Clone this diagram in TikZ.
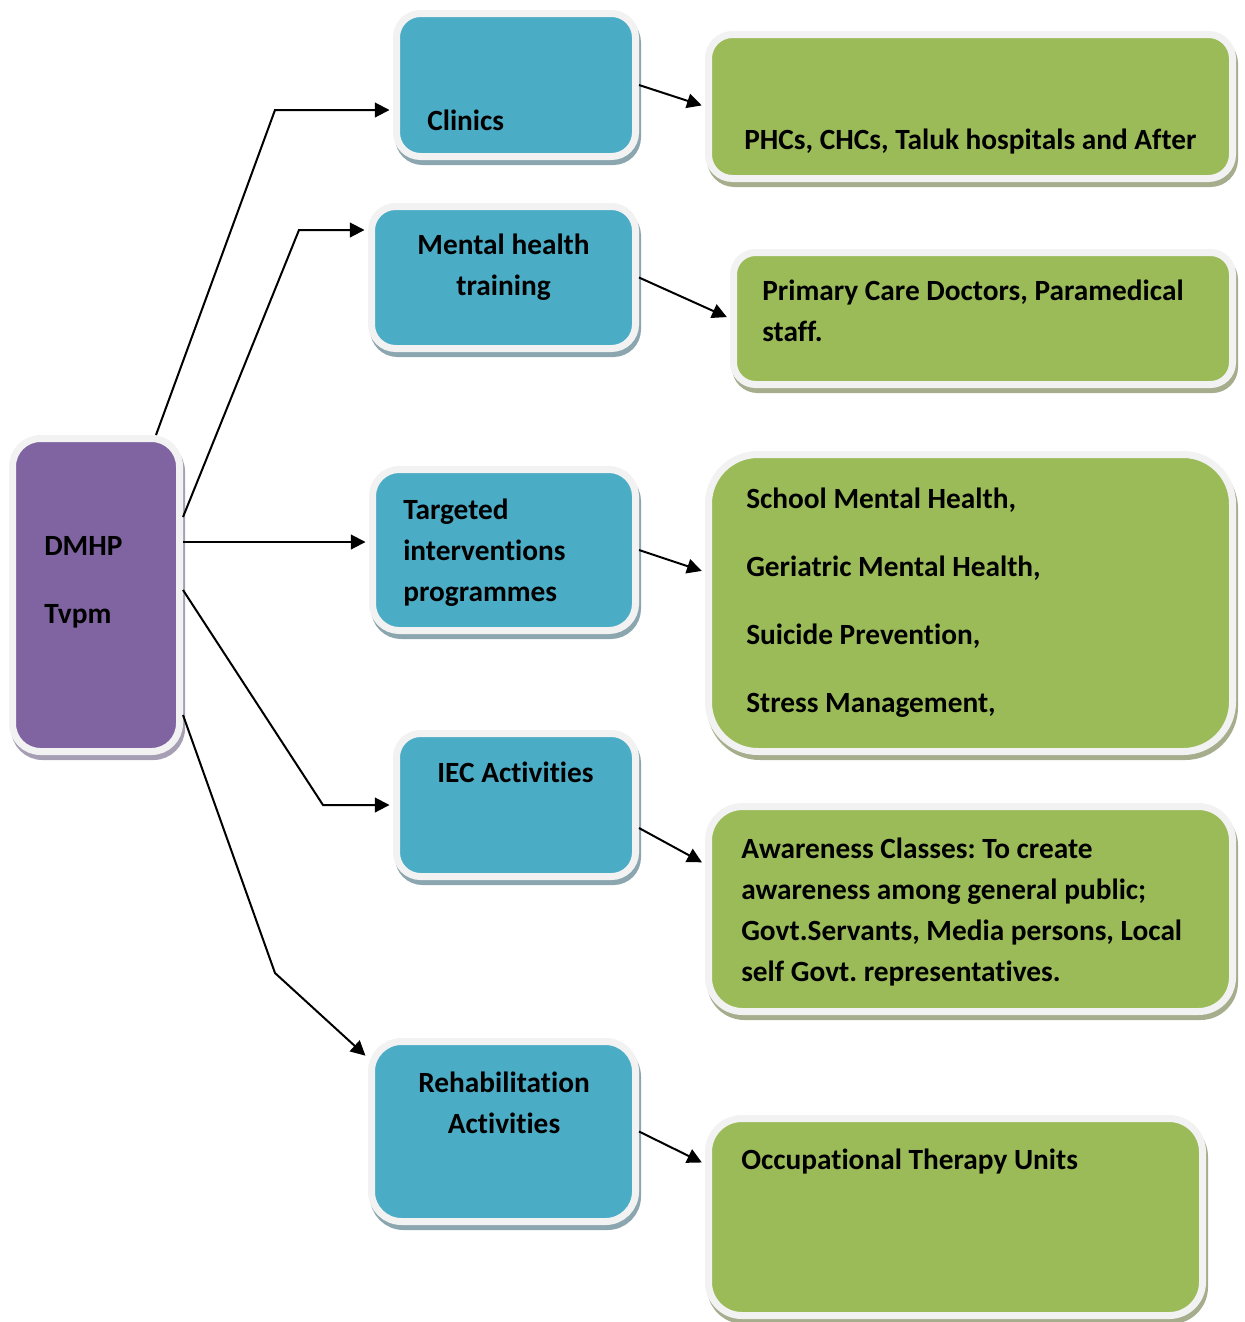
\documentclass[tikz,border=0pt]{standalone}
\usepackage{fontspec}
\setmainfont{Carlito}[Ligatures=NoCommon]
\usetikzlibrary{arrows.meta}
\frenchspacing

\definecolor{boxPurple}{HTML}{8064A2}
\definecolor{boxBlue}{HTML}{4BACC6}
\definecolor{boxGreen}{HTML}{9BBB59}
\definecolor{frameGrey}{HTML}{F2F2F2}
\definecolor{purpleShade}{HTML}{A69EB3}
\definecolor{blueShade}{HTML}{8CA6AF}
\definecolor{greenShade}{HTML}{A5AD8D}

\tikzset{
    panel/.style 2 args={
        fill=#1, draw=frameGrey, line width=5.25pt, inner sep=0pt,
        preaction={fill=#2, draw=#2, line width=5.25pt,
            transform canvas={shift={(1.5pt,-3.75pt)}}}
    },
    txt/.style={font=\bfseries\fontsize{22}{30.75}\selectfont, inner sep=0pt},
    wide/.style={font=\bfseries\fontsize{22}{51}\selectfont, inner sep=0pt},
    link/.style={-{Triangle[length=11pt,width=11pt]}, line width=1.5pt, shorten >=2.6pt}
}

\begin{document}
\begin{tikzpicture}[x=0.75pt, y=-0.75pt]
        \useasboundingbox (0,0) rectangle (1245,1322);

        % left
        \node[panel={boxPurple}{purpleShade}, rounded corners=21pt,
            minimum width=125.25pt, minimum height=234.75pt] (dmhp) at (96,595) {};

        % middle column
        \node[panel={boxBlue}{blueShade}, rounded corners=18pt,
            minimum width=179.25pt, minimum height=107.25pt] (clinics) at (516,85) {};
        \node[panel={boxBlue}{blueShade}, rounded corners=18pt,
            minimum width=198pt, minimum height=106.5pt] (training) at (503.5,277.5) {};
        \node[panel={boxBlue}{blueShade}, rounded corners=20pt,
            minimum width=197.25pt, minimum height=120.75pt] (targeted) at (504,550) {};
        \node[panel={boxBlue}{blueShade}, rounded corners=18pt,
            minimum width=179.25pt, minimum height=107.25pt] (iec) at (516,805) {};
        \node[panel={boxBlue}{blueShade}, rounded corners=22.5pt,
            minimum width=198pt, minimum height=135pt] (rehab) at (503.5,1131.5) {};

        % right column
        \node[panel={boxGreen}{greenShade}, rounded corners=18pt,
            minimum width=393pt, minimum height=108pt] (places) at (970.5,106.5) {};
        \node[panel={boxGreen}{greenShade}, rounded corners=16.5pt,
            minimum width=374.25pt, minimum height=99pt] (doctors) at (983,318.5) {};
        \node[panel={boxGreen}{greenShade}, rounded corners=37pt,
            minimum width=393pt, minimum height=222.75pt] (programmes) at (970.5,603) {};
        \node[panel={boxGreen}{greenShade}, rounded corners=25.5pt,
            minimum width=393pt, minimum height=153.75pt] (awareness) at (970.5,909) {};
        \node[panel={boxGreen}{greenShade}, rounded corners=25pt,
            minimum width=370.5pt, minimum height=147.75pt] (therapy) at (955.5,1217) {};

        % texts (base = last line)
        \node[wide, anchor=base west, align=left] (dmhpText) at (44,623) {DMHP\\Tvpm};
        \node[txt, anchor=base west] (clinicsText) at (427,130) {Clinics};
        \node[txt, anchor=base, align=center] (trainingText) at (503.5,295) {Mental health\\training};
        \node[txt, anchor=base west, align=left] (targetedText) at (403,601) {Targeted\\interventions\\programmes};
        \node[txt, anchor=base] (iecText) at (515.5,782) {IEC Activities};
        \node[txt, anchor=base, align=center] (rehabText) at (504,1133) {Rehabilitation\\Activities};
        \node[txt, anchor=base west] (placesText) at (744,149) {PHCs, CHCs, Taluk hospitals and After};
        \node[txt, anchor=base west, align=left] (doctorsText) at (762,341) {Primary Care Doctors, Paramedical\\staff.};
        \node[wide, anchor=base west, align=left] (programmesText) at (746,712)
            {School Mental Health,\\Geriatric Mental Health,\\Suicide Prevention,\\Stress Management,};
        \node[txt, anchor=base west, align=left] (awarenessText) at (741,981)
            {Awareness Classes: To create\\awareness among general public;\\Govt.Servants, Media persons, Local\\self Govt. representatives.};
        \node[txt, anchor=base west] (therapyText) at (741,1169) {Occupational Therapy Units};

        % bends
        \coordinate (bendClinics) at (275,110);
        \coordinate (bendTraining) at (299,230);
        \coordinate (bendIec) at (323,805);
        \coordinate (bendRehab) at (275,973);

        \draw[link] (156,0 |- dmhp.north) -- (bendClinics) -- (bendClinics -| clinics.west);
        \draw[link] (dmhp.east |- 0,517) -- (bendTraining) -- (bendTraining -| training.west);
        \draw[link] (dmhp.east |- 0,542) -- (targeted.west |- 0,542);
        \draw[link] (dmhp.east |- 0,590) -- (bendIec) -- (iec.west);
        \draw[link] (dmhp.east |- 0,715) -- (bendRehab) -- (rehab.west |- 0,1058);

        \draw[link] (clinics.east) -- (places.west);
        \draw[link] (training.east) -- (doctors.west);
        \draw[link] (targeted.east) -- (programmes.west |- 0,572);
        \draw[link] (iec.east |- 0,828) -- (awareness.west |- 0,864);
        \draw[link] (rehab.east) -- (therapy.west |- 0,1164);
    \end{tikzpicture}
\end{document}
